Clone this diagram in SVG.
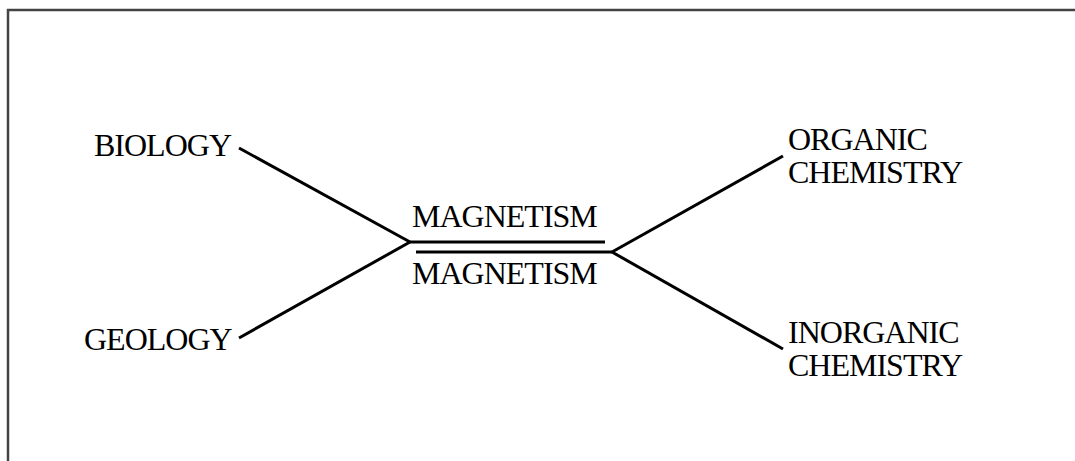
<svg xmlns="http://www.w3.org/2000/svg" width="1075" height="461" viewBox="0 0 1075 461">
<style>
.t{font-family:"Liberation Serif","Times New Roman",serif;font-size:32px;letter-spacing:-1px;fill:#000}
.c{stroke:#000;stroke-width:3;fill:none;stroke-linecap:butt}
.f{stroke:#444;stroke-width:2.5;fill:none}
</style>
<rect width="1075" height="461" fill="#fff"/>
<path class="f" d="M8,470 V10 H1085"/>
<g id="connectors">
<line class="c" x1="239" y1="148" x2="410" y2="242"/>
<line class="c" x1="239" y1="338" x2="410" y2="242"/>
<line class="c" x1="410" y1="242" x2="605" y2="242"/>
<line class="c" x1="416" y1="252" x2="612" y2="252"/>
<line class="c" x1="612" y1="252" x2="783" y2="156"/>
<line class="c" x1="612" y1="252" x2="783" y2="349"/>
</g>
<g id="biology"><text class="t" x="94" y="156">BIOLOGY</text></g>
<g id="geology"><text class="t" x="84" y="350">GEOLOGY</text></g>
<g id="magnetism-top"><text class="t" x="412" y="227">MAGNETISM</text></g>
<g id="magnetism-bottom"><text class="t" x="412" y="284">MAGNETISM</text></g>
<g id="organic"><text class="t" x="788" y="150">ORGANIC</text><text class="t" x="788" y="183">CHEMISTRY</text></g>
<g id="inorganic"><text class="t" x="788" y="343">INORGANIC</text><text class="t" x="788" y="376">CHEMISTRY</text></g>
</svg>
